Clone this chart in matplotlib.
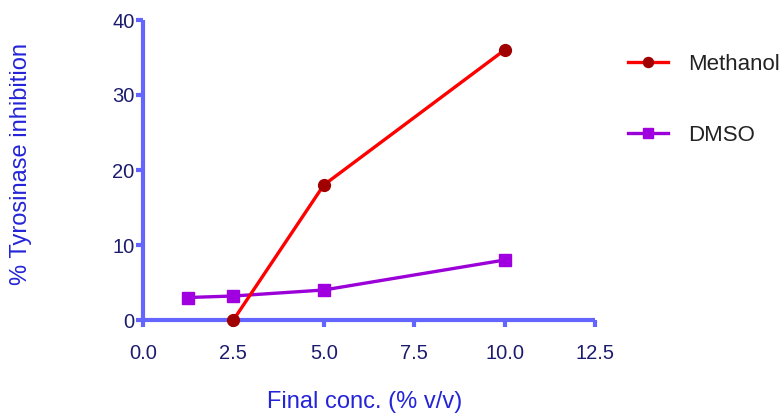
import matplotlib
matplotlib.use("Agg")
import matplotlib.pyplot as plt

plt.rcParams['font.family'] = ['Liberation Sans', 'DejaVu Sans']

meth_x = [2.5, 5.0, 10.0]
meth_y = [0.0, 18.0, 36.0]
dmso_x = [1.25, 2.5, 5.0, 10.0]
dmso_y = [3.0, 3.2, 4.0, 8.0]
xticks = [0.0, 2.5, 5.0, 7.5, 10.0, 12.5]
yticks = [0, 10, 20, 30, 40]

spine_col = '#6464ff'
tick_col = '#1c1c6e'
label_col = '#2424d8'

fig = plt.figure(figsize=(7.84, 4.15), dpi=100)
ax = fig.add_axes([143/784, 95/415, (595-143)/784, 300/415])

ax.plot(dmso_x, dmso_y, color='#9b00d9', lw=2.4, marker='s', ms=8.5,
        mfc='#a000e0', mec='#a000e0', clip_on=False, zorder=3, label='DMSO')
ax.plot(meth_x, meth_y, color='#ff0000', lw=2.4, marker='o', ms=8.5,
        mfc='#a00000', mec='#a00000', clip_on=False, zorder=4, label='Methanol')

ax.set_xlim(0, 12.5)
ax.set_ylim(0, 40)
ax.set_xticks(xticks)
ax.set_xticklabels(['%.1f' % v for v in xticks])
ax.set_yticks(yticks)

for s in ['top', 'right']:
    ax.spines[s].set_visible(False)
for s in ['left', 'bottom']:
    ax.spines[s].set_color(spine_col)
    ax.spines[s].set_linewidth(3)
    ax.spines[s].set_capstyle('butt')
ax.tick_params(axis='both', colors=spine_col, width=3, length=5,
               labelcolor=tick_col, labelsize=14.5)
ax.tick_params(axis='x', pad=12)
ax.tick_params(axis='y', pad=1)

ax.set_xlabel('Final conc. (% v/v)', color=label_col, fontsize=17)
ax.xaxis.set_label_coords(0.49, -0.235)
ax.set_ylabel('% Tyrosinase inhibition', color=label_col, fontsize=17)
ax.yaxis.set_label_coords(-0.245, 0.52)

handles, labels = ax.get_legend_handles_labels()
leg = fig.legend(handles[::-1], labels[::-1], loc='upper left',
                 bbox_to_anchor=(628/784, 1 - 54/415), frameon=False,
                 fontsize=16, labelspacing=2.25, handlelength=1.8,
                 handletextpad=0.9, borderpad=0, borderaxespad=0,
                 markerscale=0.85)
for t in leg.get_texts():
    t.set_color('#222222')

fig.savefig('out.png', dpi=100)
